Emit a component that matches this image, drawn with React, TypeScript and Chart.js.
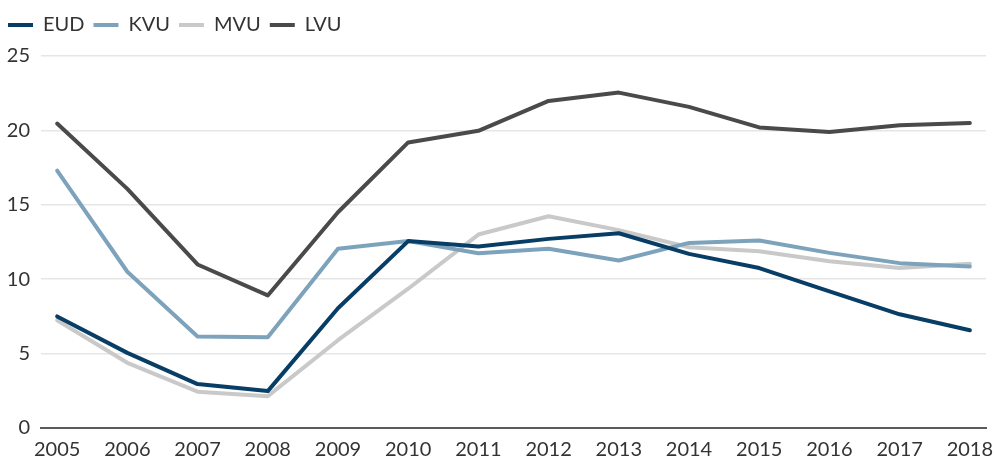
import React, { useEffect, useRef } from "react";
import { Chart, registerables } from "chart.js";

Chart.register(...registerables);

const years = [2005, 2006, 2007, 2008, 2009, 2010, 2011, 2012, 2013, 2014, 2015, 2016, 2017, 2018];
const eud = [7.5, 5.05, 2.95, 2.48, 8.05, 12.56, 12.2, 12.71, 13.09, 11.7, 10.75, 9.18, 7.64, 6.57];
const kvu = [17.3, 10.5, 6.15, 6.1, 12.04, 12.56, 11.75, 12.04, 11.26, 12.44, 12.6, 11.77, 11.08, 10.86];
const mvu = [7.24, 4.38, 2.44, 2.14, 5.9, 9.36, 13.0, 14.23, 13.3, 12.15, 11.88, 11.2, 10.75, 11.04];
const lvu = [20.46, 16.07, 10.99, 8.91, 14.5, 19.19, 19.97, 21.98, 22.54, 21.58, 20.2, 19.9, 20.35, 20.49];
const yTicks = [0, 5, 10, 15, 20, 25];

const seriesNames = ["EUD", "KVU", "MVU", "LVU"];
const seriesValues = [eud, kvu, mvu, lvu];
const seriesColors = ["#083d66", "#7da3bc", "#c9c9c9", "#4a4a4a"];

const legendGapPlugin = {
  id: "legendGap",
  beforeUpdate(chart: any) {
    const lg = chart.legend;
    if (lg && !lg.__patched) {
      const orig = lg.fit.bind(lg);
      lg.fit = function () {
        orig();
        this.height += 11;
      };
      lg.__patched = true;
    }
  },
};

export default function App() {
  const ref = useRef<HTMLCanvasElement | null>(null);

  useEffect(() => {
    if (!ref.current) return;
    const font = { family: "Lato", size: 20 };
    const chart = new Chart(ref.current, {
      type: "line",
      data: {
        datasets: seriesNames.map((name, i) => ({
          label: name,
          data: years.map((y, j) => ({ x: y, y: seriesValues[i][j] })),
          borderColor: seriesColors[i],
          backgroundColor: seriesColors[i],
          borderWidth: 4,
          pointRadius: 0,
          pointStyle: "line",
          borderCapStyle: "round",
          borderJoinStyle: "round",
          tension: 0,
          fill: false,
        })),
      },
      plugins: [legendGapPlugin],
      options: {
        animation: false,
        responsive: false,
        maintainAspectRatio: false,
        layout: { padding: { left: 0, right: 13, top: 6, bottom: 0 } },
        plugins: {
          tooltip: { enabled: false },
          legend: {
            display: true,
            position: "top",
            align: "start",
            labels: {
              usePointStyle: true,
              pointStyleWidth: 25,
              boxHeight: 20,
              padding: 9,
              color: "#333",
              font,
            },
          },
        },
        scales: {
          x: {
            type: "linear",
            min: 2004.77,
            max: 2018.23,
            afterBuildTicks: (axis: any) => {
              axis.ticks = years.map((v) => ({ value: v }));
            },
            afterFit: (axis: any) => {
              axis.height = 32;
              axis.paddingLeft = 0;
              axis.paddingRight = 0;
            },
            grid: { display: false, drawTicks: false },
            border: { display: true, color: "#5a5a5a", width: 2 },
            ticks: {
              color: "#333",
              font,
              padding: 10,
              maxRotation: 0,
              autoSkip: false,
              callback: (v: any) => String(v),
            },
          },
          y: {
            min: 0,
            max: 25,
            afterBuildTicks: (axis: any) => {
              axis.ticks = yTicks.map((v) => ({ value: v }));
            },
            afterFit: (axis: any) => {
              axis.width = 42;
              axis.paddingBottom = 0;
            },
            grid: { color: "#e6e6e6", lineWidth: 1.5, drawTicks: false },
            border: { display: false },
            ticks: { color: "#333", font, padding: 11 },
          },
        },
      },
    });
    return () => chart.destroy();
  }, []);

  return (
    <div style={{ position: "absolute", left: 0, top: 0, width: 994, height: 460, overflow: "hidden" }}>
      <div style={{ position: "absolute", left: -1, top: 0, width: 1000, height: 460 }}>
        <canvas ref={ref} width={1000} height={460} style={{ width: 1000, height: 460 }} />
      </div>
    </div>
  );
}
